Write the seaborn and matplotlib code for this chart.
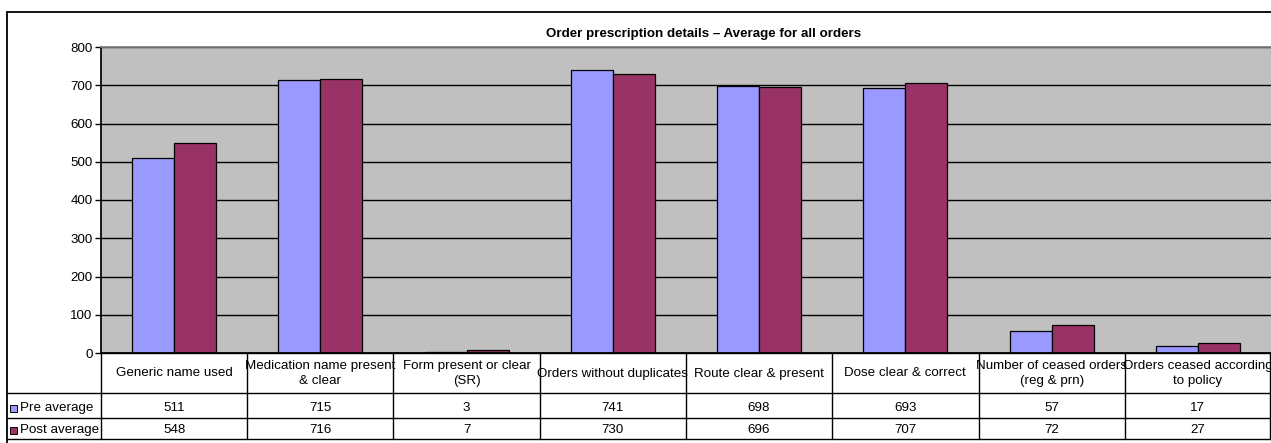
import matplotlib
matplotlib.use("Agg")
import matplotlib.pyplot as plt
from matplotlib.lines import Line2D
from matplotlib.patches import Rectangle
import pandas as pd
import seaborn as sns

# --- data -------------------------------------------------------------
categories = [
    "Generic name used",
    "Medication name present\n& clear",
    "Form present or clear\n(SR)",
    "Orders without duplicates",
    "Route clear & present",
    "Dose clear & correct",
    "Number of ceased orders\n(reg & prn)",
    "Orders ceased according\nto policy",
]
pre_average = [511, 715, 3, 741, 698, 693, 57, 17]
post_average = [548, 716, 7, 730, 696, 707, 72, 27]
series_names = ["Pre average", "Post average"]
series_colors = ["#9999FF", "#993366"]
y_ticks = [0, 100, 200, 300, 400, 500, 600, 700, 800]
title = "Order prescription details \u2013 Average for all orders"

# --- layout (pixel geometry of the canvas) ---------------------------
W, H = 1271, 443
DPI = 100
FS = 9.6


def fx(px):
    return px / W


def fy(py):
    return 1 - py / H


sns.set_theme(style="white")
plt.rcParams["font.family"] = ["Liberation Sans", "DejaVu Sans"]
plt.rcParams["font.size"] = FS

df = pd.DataFrame({
    "category": categories * 2,
    "series": [series_names[0]] * len(categories) + [series_names[1]] * len(categories),
    "value": pre_average + post_average,
})

fig = plt.figure(figsize=(W / DPI, H / DPI), dpi=DPI)
fig.patch.set_facecolor("white")

plot_left, plot_right = 101, 1271
plot_top, plot_bottom = 47, 353
ax = fig.add_axes([fx(plot_left), fy(plot_bottom),
                   fx(plot_right) - fx(plot_left), fy(plot_top) - fy(plot_bottom)])
ax.set_facecolor("#C0C0C0")

sns.barplot(data=df, x="category", y="value", hue="series",
            palette=series_colors, saturation=1, width=0.575,
            edgecolor="black", linewidth=0.9, ax=ax, legend=False)

ax.set_xlim(-0.5, len(categories) - 0.5)
ax.set_ylim(0, 800)
ax.set_yticks(y_ticks)
ax.set_yticklabels([str(t) for t in y_ticks], fontsize=FS, color="black")
ax.yaxis.grid(True, color="black", linewidth=1)
ax.set_axisbelow(True)
ax.tick_params(axis="y", direction="out", length=4, width=1, color="black", pad=2, left=True)
ax.tick_params(axis="x", bottom=False, labelbottom=False)
ax.set_xlabel("")
ax.set_ylabel("")
ax.spines["right"].set_visible(False)
ax.spines["top"].set_color("#808080")
ax.spines["left"].set_color("black")
ax.spines["bottom"].set_color("black")

# --- chart title -------------------------------------------------------
fig.text(fx(704), fy(34), title, ha="center", va="center",
         fontsize=FS, fontweight="bold", color="black")

# --- outer chart frame -------------------------------------------------
frame_kw = dict(transform=fig.transFigure, color="black", linewidth=1.3)
fig.add_artist(Line2D([fx(7), fx(W)], [fy(12), fy(12)], **frame_kw))
fig.add_artist(Line2D([fx(7), fx(7)], [fy(12), fy(H)], **frame_kw))

# --- data table under the plot ----------------------------------------
col_w = (plot_right - plot_left) / len(categories)
row_header = (353, 393)
row_pre = (393, 418)
row_post = (418, 439)
line_kw = dict(transform=fig.transFigure, color="black", linewidth=1)

# horizontal rules
fig.add_artist(Line2D([fx(plot_left), fx(W)], [fy(353), fy(353)], **line_kw))
for yy in (row_pre[0], row_post[0], row_post[1]):
    fig.add_artist(Line2D([fx(7), fx(W)], [fy(yy), fy(yy)], **line_kw))

# vertical rules
for i in range(len(categories) + 1):
    xx = plot_left + i * col_w
    if i == len(categories):
        xx = W - 1
    fig.add_artist(Line2D([fx(xx), fx(xx)], [fy(353), fy(row_post[1])], **line_kw))

# header cells with category names, value cells from the series
for i, cat in enumerate(categories):
    cx = plot_left + (i + 0.5) * col_w
    fig.text(fx(cx), fy(sum(row_header) / 2 + 0.5), cat, ha="center", va="center",
             multialignment="center", fontsize=FS, color="black", linespacing=1.35)
    fig.text(fx(cx), fy(sum(row_pre) / 2 + 2.5), f"{pre_average[i]}", ha="center",
             va="center", fontsize=FS, color="black")
    fig.text(fx(cx), fy(sum(row_post) / 2 + 1.5), f"{post_average[i]}", ha="center",
             va="center", fontsize=FS, color="black")

# legend keys in the first column of the table
for (y0, y1), shift, name, color in zip((row_pre, row_post), (2.5, 1.5),
                                        series_names, series_colors):
    yc = (y0 + y1) / 2 + shift
    fig.add_artist(Rectangle((fx(10), fy(yc + 3.5)), fx(7), fy(0) - fy(7),
                             transform=fig.transFigure, facecolor=color,
                             edgecolor="black", linewidth=0.7))
    fig.text(fx(20), fy(yc), name, ha="left", va="center", fontsize=FS, color="black")

fig.savefig("out.png", dpi=DPI, facecolor="white")
